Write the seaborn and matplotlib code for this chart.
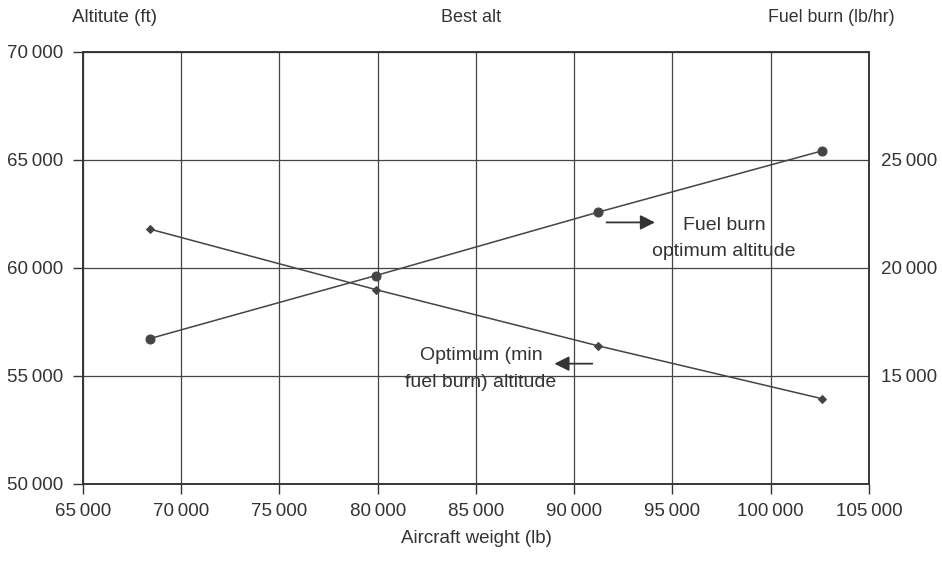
import matplotlib
matplotlib.use("Agg")
import matplotlib.pyplot as plt
import seaborn as sns
import pandas as pd

# Values
weight = [68400, 79900, 91200, 102600]
opt_alt = [61800, 59000, 56400, 53950]          # left axis (ft)
fuel_burn = [16730, 19650, 22580, 25420]        # right axis (lb/hr)

x_ticks = [65000, 70000, 75000, 80000, 85000, 90000, 95000, 100000, 105000]
y_ticks = [50000, 55000, 60000, 65000, 70000]
y2_ticks = [15000, 20000, 25000]

def fmt(v):
    return f"{v:,}".replace(",", "\u2009")

sns.set_style("white")
plt.rcParams['font.family'] = ['Liberation Sans', 'DejaVu Sans']
ink = "#333333"
line_col = "#444444"

df = pd.DataFrame({'weight': weight, 'opt_alt': opt_alt, 'fuel_burn': fuel_burn})

fig = plt.figure(figsize=(9.42, 5.62), dpi=100)
ax = fig.add_axes([0.0881, 0.1388, 0.9225 - 0.0881, 0.9075 - 0.1388])

sns.lineplot(data=df, x='weight', y='opt_alt', ax=ax, color=line_col, lw=1.1,
             marker='D', markersize=4, markeredgecolor=line_col)
ax.set_xlim(65000, 105000)
ax.set_ylim(50000, 70000)
ax.set_xticks(x_ticks)
ax.set_xticklabels([fmt(v) for v in x_ticks])
ax.set_yticks(y_ticks)
ax.set_yticklabels([fmt(v) for v in y_ticks])
ax.grid(True, color=line_col, lw=0.9)
ax.tick_params(axis='both', direction='out', length=7, width=1, color=ink,
               labelsize=13.5, labelcolor=ink, left=True, bottom=True)
ax.tick_params(axis='y', pad=7)
ax.tick_params(axis='x', pad=7)
for s in ax.spines.values():
    s.set_color(ink)
    s.set_linewidth(1.1)
ax.set_xlabel("Aircraft weight (lb)", fontsize=13.5, color=ink, labelpad=7)
ax.set_ylabel("")

ax2 = ax.twinx()
sns.lineplot(data=df, x='weight', y='fuel_burn', ax=ax2, color=line_col, lw=1.1,
             marker='o', markersize=6.5, markeredgecolor=line_col)
ax2.set_ylim(10000, 30000)
ax2.set_yticks(y2_ticks)
ax2.set_yticklabels([fmt(v) for v in y2_ticks])
ax2.tick_params(axis='y', length=0, labelsize=13.5, labelcolor=ink, pad=9)
ax2.set_ylabel("")
for s in ax2.spines.values():
    s.set_color(ink)
    s.set_linewidth(1.1)

# Header labels
fig.text(115 / 942, 1 - 18 / 562, "Altitute (ft)", ha='center', va='center', fontsize=13.5, color=ink)
fig.text(471 / 942, 1 - 18 / 562, "Best alt", ha='center', va='center', fontsize=13, color=ink)
fig.text(831 / 942, 1 - 18 / 562, "Fuel burn (lb/hr)", ha='center', va='center', fontsize=12.8, color=ink)

# Annotations
ax.annotate("", xy=(94250, 62110), xytext=(91500, 62110),
            arrowprops=dict(arrowstyle='-|>', color=ink, lw=1.3, mutation_scale=22))
ax.text(97620, 61370, "Fuel burn\noptimum altitude", ha='center', va='center',
        fontsize=14, color=ink, linespacing=1.75)
ax.annotate("", xy=(88850, 55570), xytext=(91060, 55570),
            arrowprops=dict(arrowstyle='-|>', color=ink, lw=1.3, mutation_scale=22))
ax.text(85250, 55340, "Optimum (min\nfuel burn) altitude", ha='center', va='center',
        fontsize=14, color=ink, linespacing=1.75)

fig.savefig("out.png", dpi=100)
